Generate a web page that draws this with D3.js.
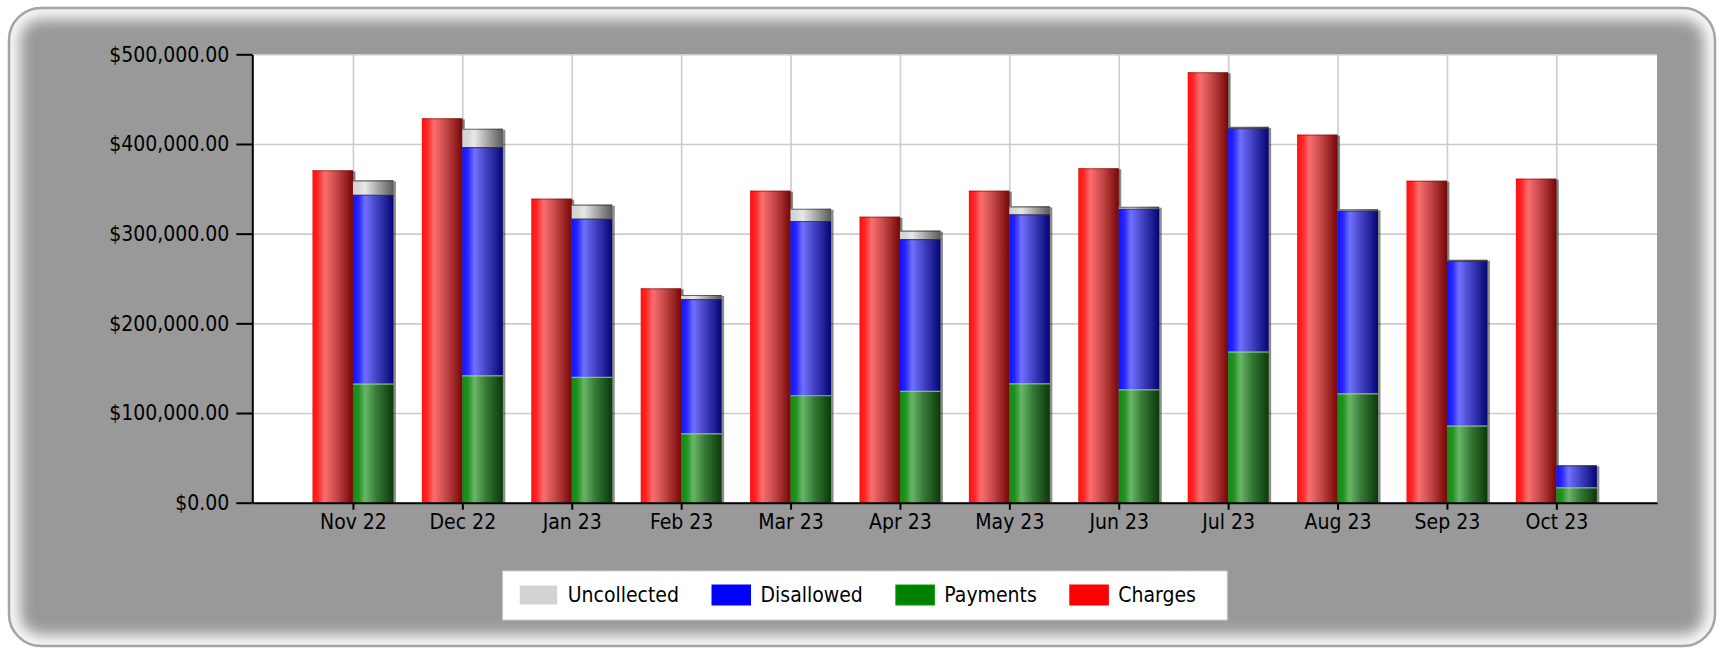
<!DOCTYPE html>
<html>
<head>
<meta charset="utf-8">
<script src="https://cdn.jsdelivr.net/npm/d3@7"></script>
<style>
    body { margin: 0; background: #fff; }
    text { font-family: "DejaVu Sans Condensed", "DejaVu Sans", sans-serif; font-stretch: condensed; fill: #000; }
</style>
</head>
<body>
<script>
// Months on the x axis
var months = ["Nov 22", "Dec 22", "Jan 23", "Feb 23", "Mar 23", "Apr 23", "May 23", "Jun 23", "Jul 23", "Aug 23", "Sep 23", "Oct 23"];

// Values (dollars)
var charges     = [370600, 428600, 339000, 239000, 347900, 318900, 347900, 372900, 479900, 410400, 359000, 361300];
var payments    = [132700, 142000, 140200,  77400, 119800, 124600, 133100, 126400, 168400, 122000,  85900,  17200];
var disallowed  = [210700, 254600, 176500, 149700, 194300, 169400, 188500, 201400, 249200, 203700, 183700,  24500];
var uncollected = [ 16100,  20400,  15600,   4500,  13700,   9300,   8900,   2200,   1500,   1500,   1200,      0];

var yTicks = [0, 100000, 200000, 300000, 400000, 500000];

var legendItems = [
    { name: "Uncollected", color: "#d3d3d3" },
    { name: "Disallowed", color: "#0000ff" },
    { name: "Payments", color: "#008000" },
    { name: "Charges", color: "#ff0000" }
];

var W = 1721, H = 648;
var margin = { top: 54.3, right: 64, bottom: 145.3, left: 252.3 },
    width = W - margin.left - margin.right,
    height = H - margin.top - margin.bottom;

var svg = d3.select("body").append("svg")
    .attr("width", W)
    .attr("height", H);

var defs = svg.append("defs");

// cylinder-like horizontal gradients for each series
function cylinder(id, stops) {
    var g = defs.append("linearGradient").attr("id", id)
        .attr("x1", "0%").attr("x2", "100%").attr("y1", "0%").attr("y2", "0%");
    stops.forEach(function (s) {
        g.append("stop").attr("offset", s[0]).attr("stop-color", s[1]);
    });
}
cylinder("gRed",   [["0%", "#ff1010"], ["14%", "#ff2828"], ["30%", "#fb6e6e"], ["58%", "#c84a4a"], ["100%", "#760606"]]);
cylinder("gBlue",  [["0%", "#1010ff"], ["14%", "#2828ff"], ["30%", "#7070ff"], ["58%", "#4444c4"], ["100%", "#040476"]]);
cylinder("gGreen", [["0%", "#128a12"], ["14%", "#229222"], ["30%", "#68b668"], ["58%", "#377a37"], ["100%", "#083a08"]]);
cylinder("gGray",  [["0%", "#d2d2d2"], ["14%", "#d8d8d8"], ["30%", "#e8e8e8"], ["62%", "#a6a6a6"], ["100%", "#5a5a5a"]]);

// soft inner glow for the rounded frame
defs.append("clipPath").attr("id", "frameClip")
    .append("rect").attr("x", 9).attr("y", 8).attr("width", 1706).attr("height", 638).attr("rx", 32);
defs.append("filter").attr("id", "blur").attr("x", "-5%").attr("y", "-5%").attr("width", "110%").attr("height", "110%")
    .append("feGaussianBlur").attr("stdDeviation", 7);

// ****************** Frame ***************************
svg.append("rect")
    .attr("x", 9).attr("y", 8).attr("width", 1706).attr("height", 638).attr("rx", 32)
    .attr("fill", "#999999");
svg.append("g").attr("clip-path", "url(#frameClip)")
    .append("rect")
    .attr("x", 9).attr("y", 8).attr("width", 1706).attr("height", 638).attr("rx", 32)
    .attr("fill", "none").attr("stroke", "#fafafa").attr("stroke-width", 22)
    .attr("filter", "url(#blur)");
svg.append("rect")
    .attr("x", 9).attr("y", 8).attr("width", 1706).attr("height", 638).attr("rx", 32)
    .attr("fill", "none").attr("stroke", "#a4a4a4").attr("stroke-width", 2.5);

var g = svg.append("g")
    .attr("transform", "translate(" + margin.left + "," + margin.top + ")");

// plot background
g.append("rect").attr("width", width).attr("height", height).attr("fill", "#fff");

// scales
var x = d3.scalePoint().domain(months).range([0, width]).padding(0.92);
var y = d3.scaleLinear().domain([0, 500000]).range([height, 0]);
var barW = x.step() * 0.37;

// ****************** Grid ***************************
g.append("g").attr("class", "ygrid")
    .call(d3.axisLeft(y).tickValues(yTicks).tickSize(-width).tickFormat(""))
    .call(function (s) { s.select(".domain").remove(); })
    .selectAll("line").attr("stroke", "#cccccc").attr("stroke-width", 1.6);

g.append("g").attr("class", "xgrid")
    .call(d3.axisTop(x).tickSize(-height).tickFormat(""))
    .call(function (s) { s.select(".domain").remove(); })
    .selectAll("line").attr("stroke", "#cccccc").attr("stroke-width", 1.6);

// ****************** Bars ***************************
var rows = months.map(function (m, i) {
    return { month: m, charges: charges[i], payments: payments[i], disallowed: disallowed[i], uncollected: uncollected[i] };
});

var shadow = g.append("g").attr("fill", "#000").attr("fill-opacity", 0.45);

// charges bars, left of the tick
shadow.selectAll("rect.c").data(rows).enter().append("rect").attr("class", "c")
    .attr("x", function (d) { return x(d.month) - barW + 2.5; })
    .attr("y", function (d) { return y(d.charges) + 1; })
    .attr("width", barW)
    .attr("height", function (d) { return height - y(d.charges) - 1; });

var stack = d3.stack().keys(["payments", "disallowed", "uncollected"])(rows);
var fills = { payments: "url(#gGreen)", disallowed: "url(#gBlue)", uncollected: "url(#gGray)" };

// stacked shadow
shadow.selectAll("rect.s").data(rows).enter().append("rect").attr("class", "s")
    .attr("x", function (d) { return x(d.month) + 2.5; })
    .attr("y", function (d) { return y(d.payments + d.disallowed + d.uncollected) + 1; })
    .attr("width", barW)
    .attr("height", function (d) { return height - y(d.payments + d.disallowed + d.uncollected) - 1; });

g.append("g").selectAll("rect").data(rows).enter().append("rect")
    .attr("x", function (d) { return x(d.month) - barW; })
    .attr("y", function (d) { return y(d.charges); })
    .attr("width", barW)
    .attr("height", function (d) { return height - y(d.charges); })
    .attr("fill", "url(#gRed)");

var layer = g.append("g").selectAll("g.layer").data(stack).enter().append("g")
    .attr("class", "layer")
    .attr("fill", function (d) { return fills[d.key]; });

layer.selectAll("rect").data(function (d) { return d; }).enter().append("rect")
    .attr("x", function (d) { return x(d.data.month); })
    .attr("y", function (d) { return y(d[1]); })
    .attr("width", barW)
    .attr("height", function (d) { return y(d[0]) - y(d[1]); });

// thin edge on top of every segment
var tops = g.append("g");
tops.selectAll("line.c").data(rows).enter().append("line").attr("class", "c")
    .attr("x1", function (d) { return x(d.month) - barW; })
    .attr("x2", function (d) { return x(d.month); })
    .attr("y1", function (d) { return y(d.charges) + 0.5; })
    .attr("y2", function (d) { return y(d.charges) + 0.5; })
    .attr("stroke", "#7a1010").attr("stroke-opacity", 0.6).attr("stroke-width", 1);
stack.forEach(function (s) {
    tops.selectAll(null).data(s.filter(function (d) { return d[1] > d[0]; })).enter().append("line")
        .attr("x1", function (d) { return x(d.data.month); })
        .attr("x2", function (d) { return x(d.data.month) + barW; })
        .attr("y1", function (d) { return y(d[1]) + 0.5; })
        .attr("y2", function (d) { return y(d[1]) + 0.5; })
        .attr("stroke", s.key == "payments" ? "#a8d8a8" : "#333")
        .attr("stroke-opacity", 0.7).attr("stroke-width", 1.2);
});

// ****************** Axes ***************************
var fmt = d3.format("$,.2f");

var yAxis = g.append("g")
    .call(d3.axisLeft(y).tickValues(yTicks).tickFormat(fmt).tickSize(16).tickSizeOuter(0).tickPadding(7));
var xAxis = g.append("g")
    .attr("transform", "translate(0," + height + ")")
    .call(d3.axisBottom(x).tickSize(7).tickSizeOuter(0).tickPadding(4));

[yAxis, xAxis].forEach(function (a) {
    a.select(".domain").attr("stroke", "#000").attr("stroke-width", 2);
    a.selectAll(".tick line").attr("stroke", "#000").attr("stroke-width", 2);
    a.selectAll("text").style("font-size", "21px").attr("fill", "#000")
        .style("font-family", "'DejaVu Sans Condensed', 'DejaVu Sans', sans-serif");
});

// ****************** Legend ***************************
var legend = svg.append("g").attr("transform", "translate(502.7,571)");
legend.append("rect")
    .attr("width", 724.5).attr("height", 49)
    .attr("fill", "#fff").attr("stroke", "#cfcfcf").attr("stroke-width", 1);

var lx = 16.5;
legendItems.forEach(function (item) {
    legend.append("rect")
        .attr("x", lx).attr("y", 14).attr("width", 38.5).attr("height", 20)
        .attr("fill", item.color).attr("stroke", d3.color(item.color).brighter(0.6)).attr("stroke-width", 1);
    var t = legend.append("text")
        .attr("x", lx + 48.5).attr("y", 24).attr("dy", "0.35em")
        .style("font-size", "21px")
        .text(item.name);
    lx = lx + 48.5 + t.node().getComputedTextLength() + 33;
});
</script>
</body>
</html>
